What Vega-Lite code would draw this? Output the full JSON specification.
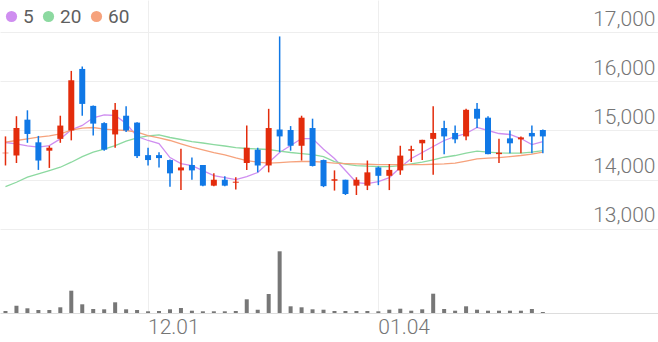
{
  "$schema": "https://vega.github.io/schema/vega-lite/v6.json",
  "width": 658,
  "height": 313,
  "padding": 0,
  "autosize": {"type": "pad"},
  "background": "white",
  "config": {"view": {"stroke": null}, "font": "Roboto"},
  "datasets": {
    "stock": [
      {"d":"11.12","open":14540,"high":14880,"low":14290,"close":14550,"vol":40000,"5":14756,"20":13862,"60":14762},
      {"d":"11.13","open":14490,"high":15290,"low":14340,"close":15050,"vol":146000,"5":14729,"20":13949,"60":14797},
      {"d":"11.16","open":15220,"high":15410,"low":14750,"close":14930,"vol":94000,"5":14688,"20":14051,"60":14831},
      {"d":"11.17","open":14760,"high":14890,"low":14200,"close":14390,"vol":60000,"5":14661,"20":14119,"60":14864},
      {"d":"11.18","open":14590,"high":14690,"low":14240,"close":14650,"vol":60000,"5":14695,"20":14187,"60":14892},
      {"d":"11.19","open":14830,"high":15300,"low":14750,"close":15100,"vol":114000,"5":14830,"20":14254,"60":14932},
      {"d":"11.20","open":15000,"high":16210,"low":14800,"close":16020,"vol":446000,"5":15014,"20":14356,"60":15007},
      {"d":"11.23","open":16250,"high":16300,"low":15300,"close":15540,"vol":174000,"5":15102,"20":14471,"60":15047},
      {"d":"11.24","open":15500,"high":15510,"low":14900,"close":15140,"vol":80000,"5":15258,"20":14559,"60":15061},
      {"d":"11.25","open":15150,"high":15170,"low":14590,"close":14610,"vol":74000,"5":15319,"20":14620,"60":15027},
      {"d":"11.26","open":14920,"high":15560,"low":14650,"close":15420,"vol":214000,"5":15305,"20":14695,"60":15014},
      {"d":"11.27","open":15300,"high":15490,"low":14970,"close":15000,"vol":74000,"5":15142,"20":14783,"60":15000},
      {"d":"11.30","open":15160,"high":15170,"low":14440,"close":14480,"vol":60000,"5":14878,"20":14851,"60":14966},
      {"d":"12.01","open":14500,"high":14650,"low":14290,"close":14400,"vol":34000,"5":14797,"20":14892,"60":14898},
      {"d":"12.02","open":14500,"high":14560,"low":14250,"close":14440,"vol":40000,"5":14736,"20":14912,"60":14851},
      {"d":"12.03","open":14400,"high":14410,"low":13860,"close":14130,"vol":74000,"5":14451,"20":14858,"60":14797},
      {"d":"12.04","open":14190,"high":14630,"low":13790,"close":14250,"vol":100000,"5":14329,"20":14817,"60":14729},
      {"d":"12.07","open":14300,"high":14450,"low":14000,"close":14190,"vol":46000,"5":14288,"20":14776,"60":14661},
      {"d":"12.08","open":14300,"high":14300,"low":13870,"close":13880,"vol":34000,"5":14187,"20":14746,"60":14607},
      {"d":"12.09","open":13880,"high":14130,"low":13870,"close":14000,"vol":34000,"5":14085,"20":14715,"60":14553},
      {"d":"12.10","open":14000,"high":14070,"low":13870,"close":13880,"vol":34000,"5":14044,"20":14685,"60":14505},
      {"d":"12.11","open":13940,"high":14050,"low":13800,"close":13960,"vol":40000,"5":14004,"20":14654,"60":14444},
      {"d":"12.14","open":14340,"high":15100,"low":14200,"close":14650,"vol":274000,"5":14065,"20":14634,"60":14390},
      {"d":"12.15","open":14610,"high":14650,"low":14150,"close":14290,"vol":66000,"5":14146,"20":14624,"60":14356},
      {"d":"12.16","open":14290,"high":15440,"low":14150,"close":15050,"vol":380000,"5":14349,"20":14614,"60":14336},
      {"d":"12.17","open":15020,"high":16910,"low":14560,"close":14880,"vol":1234000,"5":14553,"20":14583,"60":14349},
      {"d":"12.18","open":15010,"high":15090,"low":14590,"close":14690,"vol":134000,"5":14695,"20":14553,"60":14363},
      {"d":"12.21","open":14690,"high":15300,"low":14390,"close":15260,"vol":114000,"5":14837,"20":14532,"60":14370},
      {"d":"12.22","open":15050,"high":15240,"low":14270,"close":14280,"vol":74000,"5":14837,"20":14512,"60":14370},
      {"d":"12.23","open":14400,"high":14410,"low":13850,"close":13870,"vol":66000,"5":14620,"20":14471,"60":14356},
      {"d":"12.24","open":13980,"high":14190,"low":13780,"close":14010,"vol":40000,"5":14431,"20":14370,"60":14339},
      {"d":"12.28","open":14000,"high":14000,"low":13690,"close":13710,"vol":40000,"5":14187,"20":14319,"60":14329},
      {"d":"12.29","open":13880,"high":14050,"low":13690,"close":14000,"vol":40000,"5":13943,"20":14288,"60":14322},
      {"d":"12.30","open":13880,"high":14390,"low":13790,"close":14150,"vol":40000,"5":13922,"20":14275,"60":14315},
      {"d":"01.04","open":14250,"high":14270,"low":13890,"close":14080,"vol":34000,"5":13963,"20":14268,"60":14309},
      {"d":"01.05","open":14080,"high":14320,"low":13790,"close":14200,"vol":66000,"5":14044,"20":14268,"60":14309},
      {"d":"01.06","open":14190,"high":14690,"low":14100,"close":14490,"vol":86000,"5":14248,"20":14288,"60":14309},
      {"d":"01.07","open":14590,"high":14690,"low":14360,"close":14620,"vol":46000,"5":14431,"20":14322,"60":14309},
      {"d":"01.08","open":14740,"high":14810,"low":14400,"close":14810,"vol":74000,"5":14553,"20":14356,"60":14309},
      {"d":"01.11","open":14830,"high":15490,"low":14100,"close":14950,"vol":386000,"5":14675,"20":14405,"60":14315},
      {"d":"01.12","open":15050,"high":15200,"low":14520,"close":14880,"vol":80000,"5":14797,"20":14457,"60":14322},
      {"d":"01.13","open":14950,"high":15100,"low":14740,"close":14820,"vol":46000,"5":14878,"20":14492,"60":14336},
      {"d":"01.14","open":14880,"high":15440,"low":14800,"close":15420,"vol":134000,"5":14939,"20":14539,"60":14380},
      {"d":"01.15","open":15440,"high":15560,"low":15050,"close":15240,"vol":66000,"5":15061,"20":14580,"60":14425},
      {"d":"01.18","open":15260,"high":15290,"low":14520,"close":14520,"vol":46000,"5":15000,"20":14559,"60":14441},
      {"d":"01.19","open":14520,"high":14830,"low":14340,"close":14550,"vol":46000,"5":14939,"20":14546,"60":14451},
      {"d":"01.20","open":14840,"high":15000,"low":14540,"close":14740,"vol":46000,"5":14919,"20":14539,"60":14471},
      {"d":"01.21","open":14820,"high":14880,"low":14540,"close":14860,"vol":46000,"5":14837,"20":14539,"60":14492},
      {"d":"01.22","open":14950,"high":15100,"low":14540,"close":14880,"vol":80000,"5":14715,"20":14559,"60":14522},
      {"d":"01.25","open":15010,"high":15020,"low":14540,"close":14880,"vol":20000,"5":14776,"20":14593,"60":14559}
    ]
  },
  "data": {"name": "stock"},
  "encoding": {
    "x": {
      "field": "d",
      "type": "ordinal",
      "scale": {
        "type": "band",
        "paddingInner": 0,
        "paddingOuter": 0,
        "domain": ["11.12","11.13","11.16","11.17","11.18","11.19","11.20","11.23","11.24","11.25","11.26","11.27","11.30","12.01","12.02","12.03","12.04","12.07","12.08","12.09","12.10","12.11","12.14","12.15","12.16","12.17","12.18","12.21","12.22","12.23","12.24","12.28","12.29","12.30","01.04","01.05","01.06","01.07","01.08","01.11","01.12","01.13","01.14","01.15","01.18","01.19","01.20","01.21","01.22","01.25","01.26","01.27","01.28","01.29","02.01","02.02","02.03","02.04","02.05","02.08"]
      },
      "axis": {
        "values": ["12.01", "01.04"],
        "bandPosition": 0.5,
        "title": null,
        "grid": true,
        "gridColor": "#eeeeee",
        "gridWidth": 1,
        "ticks": false,
        "tickSize": 0,
        "domain": true,
        "domainColor": "#dddddd",
        "domainWidth": 1,
        "labelAngle": 0,
        "labelAlign": "left",
        "labelBaseline": "top",
        "labelPadding": 3,
        "labelFontSize": 21,
        "labelFontWeight": 300,
        "labelColor": "#757575"
      }
    }
  },
  "layer": [
    {
      "layer": [
        {
          "transform": [{"fold": ["5", "20", "60"], "as": ["ma", "value"]}],
          "mark": {"type": "line", "strokeWidth": 1.3},
          "encoding": {
            "y": {
              "field": "value", "type": "quantitative",
              "scale": {"domain": [11294, 17650], "zero": false, "nice": false},
              "axis": {"orient": "right", "values": [13000, 14000, 15000, 16000, 17000], "labelExpr": "format(datum.value, ',.0f')", "title": null, "grid": true, "gridColor": "#eeeeee", "gridWidth": 1, "domain": false, "ticks": false, "tickSize": 0, "labelAlign": "right", "labelBaseline": "alphabetic", "labelPadding": -3, "labelOffset": -7, "labelFontSize": 21, "labelFontWeight": 300, "labelColor": "#757575"}
            },
            "color": {
              "field": "ma", "type": "nominal",
              "scale": {"domain": ["5", "20", "60"], "range": ["#cf8ef0", "#8cd9a0", "#f6a27c"]},
              "legend": {
                "orient": "none", "legendX": 2, "legendY": 7, "direction": "horizontal", "title": null, "padding": 0,
                "gridAlign": "none",
                "symbolType": "circle", "symbolSize": 125, "symbolStrokeWidth": 0, "symbolOpacity": 1,
                "labelFontSize": 19, "labelFontWeight": 400, "labelColor": "#5f5f5f", "labelOffset": 2, "columnPadding": 5,
                "encode": {"symbols": {"update": {"fill": {"scale": "color", "field": "value"}, "opacity": {"value": 1}}}}
              }
            }
          }
        },
        {
          "mark": {"type": "rule", "strokeWidth": 1.5},
          "encoding": {
            "y": {"field": "low", "type": "quantitative", "scale": {"domain": [11294, 17650], "zero": false, "nice": false}, "axis": {"orient": "right", "values": [13000, 14000, 15000, 16000, 17000], "labelExpr": "format(datum.value, ',.0f')", "title": null, "grid": true, "gridColor": "#eeeeee", "gridWidth": 1, "domain": false, "ticks": false, "tickSize": 0, "labelAlign": "right", "labelBaseline": "alphabetic", "labelPadding": -3, "labelOffset": -7, "labelFontSize": 21, "labelFontWeight": 300, "labelColor": "#757575"}},
            "y2": {"field": "high"},
            "color": {"condition": {"test": "datum.close >= datum.open", "value": "#e32c0c"}, "value": "#1078e6"}
          }
        },
        {
          "mark": {"type": "bar", "width": 6},
          "encoding": {
            "y": {"field": "open", "type": "quantitative", "scale": {"domain": [11294, 17650], "zero": false, "nice": false}, "axis": {"orient": "right", "values": [13000, 14000, 15000, 16000, 17000], "labelExpr": "format(datum.value, ',.0f')", "title": null, "grid": true, "gridColor": "#eeeeee", "gridWidth": 1, "domain": false, "ticks": false, "tickSize": 0, "labelAlign": "right", "labelBaseline": "alphabetic", "labelPadding": -3, "labelOffset": -7, "labelFontSize": 21, "labelFontWeight": 300, "labelColor": "#757575"}},
            "y2": {"field": "close"},
            "color": {"condition": {"test": "datum.close >= datum.open", "value": "#e32c0c"}, "value": "#1078e6"}
          }
        }
      ]
    },
    {
      "mark": {"type": "bar", "width": 4, "color": "#777777"},
      "encoding": {
        "y": {"field": "vol", "type": "quantitative", "scale": {"domain": [0, 6260000], "nice": false}, "axis": null}
      }
    }
  ],
  "resolve": {"scale": {"y": "independent"}}
}
